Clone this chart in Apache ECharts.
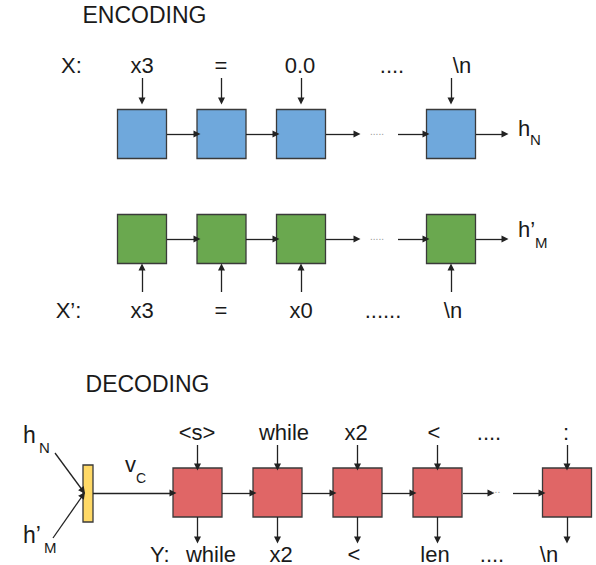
<!DOCTYPE html>
<html>
<head>
<meta charset="utf-8">
<script src="https://cdn.jsdelivr.net/npm/echarts@6/dist/echarts.min.js"></script>
<style>html,body{margin:0;padding:0;background:#fff}#c{width:596px;height:565px}</style>
</head>
<body>
<div id="c"></div>
<script>
// ---- data (tokens) ----
const encTokens = ['x3', '=', '0.0', '....', '\\n'];
const encPrimeTokens = ['x3', '=', 'x0', '......', '\\n'];
const decInTokens = ['<s>', 'while', 'x2', '<', '....', ':'];
const decOutTokens = ['while', 'x2', '<', 'len', '....', '\\n'];
const titles = ['ENCODING', 'DECODING'];
const rowLabels = ['X:', 'X\u2019:', 'Y:'];

// ---- layout (pixel space via hidden value axes) ----
const FONT = '"Liberation Sans", Arial, sans-serif';
const BOX = 49;
const blueX = [142, 221.5, 301, 451], blueY = 134;
const greenX = [142, 221.5, 301, 451], greenY = 239;
const redX = [197.5, 277.5, 357.5, 437.5, 567], redY = 492.5;
const encLabelX = [142, 221, 300, 392, 462];
const encPrimeLabelX = [142, 221, 301, 383, 453];
const decInX = [197, 284, 356, 434, 489, 566];
const decOutX = [211, 281, 354, 435, 492, 549];

const colors = { blue: '#6fa8dc', green: '#6aa84f', red: '#e06666', yellow: '#ffd966' };

// rectangles
const rects = [];
blueX.forEach(x => rects.push({ value: [x, blueY, BOX, BOX], c: colors.blue }));
greenX.forEach(x => rects.push({ value: [x, greenY, BOX, BOX], c: colors.green }));
redX.forEach(x => rects.push({ value: [x, redY, BOX, BOX], c: colors.red }));
rects.push({ value: [88, 493.5, 10, 57], c: colors.yellow });

// arrows
const arrows = [];
function arr(x1, y1, x2, y2) { arrows.push({ coords: [[x1, y1], [x2, y2]] }); }
[blueY, greenY].forEach(y => {
  arr(167, y, 197, y); arr(246, y, 276, y); arr(326, y, 357, y); arr(398, y, 426, y); arr(476, y, 505, y);
});
blueX.forEach(x => arr(x, 78, x, 101));
greenX.forEach(x => arr(x, 292, x, 267));
arr(93, 493, 173, 493);
arr(222, 493, 253, 493); arr(302, 493, 333, 493); arr(382, 493, 413, 493);
arr(463, 493, 491, 493); arr(513, 493, 542, 493);
redX.forEach(x => { arr(x, 445, x, 467); arr(x, 517, x, 540); });
arr(55, 453, 83, 491);
arr(53, 538, 83, 495);

// texts
const texts = [];
function t(x, y, s, size, align, color) { texts.push({ value: [x, y], s: s, size: size || 22, align: align || 'center', color: color || '#1a1a1a' }); }
t(144.5, 15, titles[0], 23); t(147.5, 384, titles[1], 23);
t(71.5, 65, rowLabels[0]); t(68.5, 310, rowLabels[1]); t(150, 554, rowLabels[2], 22, 'left');
encTokens.forEach((s, i) => t(encLabelX[i], 65, s));
encPrimeTokens.forEach((s, i) => t(encPrimeLabelX[i], 310, s));
decInTokens.forEach((s, i) => t(decInX[i], 432, s));
decOutTokens.forEach((s, i) => t(decOutX[i], 554, s));
t(377, blueY - 3, '.....', 10, 'center', '#999');
t(377, greenY - 3, '.....', 10, 'center', '#999');
t(496, redY - 3, '...', 10, 'center', '#999');
t(518, 128.5, 'h', 22, 'left'); t(530, 139.5, 'N', 15, 'left');
t(518, 229.5, 'h\u2019', 22, 'left'); t(535, 242, 'M', 15, 'left');
t(23, 435, 'h', 23, 'left'); t(39, 447.5, 'N', 15, 'left');
t(23, 535, 'h\u2019', 23, 'left'); t(44, 547.5, 'M', 15, 'left');
t(125, 464.5, 'v', 22, 'left'); t(136, 477.5, 'C', 14, 'left');

const chart = echarts.init(document.getElementById('c'), null, { renderer: 'svg' });
chart.setOption({
  animation: false,
  grid: { left: 0, right: 0, top: 0, bottom: 0 },
  xAxis: { type: 'value', min: 0, max: 596, show: false },
  yAxis: { type: 'value', min: 0, max: 565, inverse: true, show: false },
  series: [
    {
      type: 'custom', data: rects,
      renderItem: function (params, api) {
        const d = rects[params.dataIndex];
        const p = api.coord([api.value(0), api.value(1)]);
        const s = api.size([api.value(2), api.value(3)]);
        return { type: 'rect', shape: { x: p[0] - s[0] / 2, y: p[1] - s[1] / 2, width: s[0], height: s[1] },
          style: { fill: d.c, stroke: '#3a3a3a', lineWidth: 1.3 } };
      }
    },
    {
      type: 'lines', coordinateSystem: 'cartesian2d', data: arrows,
      symbol: ['none', 'triangle'], symbolSize: 7,
      lineStyle: { color: '#222', width: 1.3, opacity: 1 }
    },
    {
      type: 'custom', data: texts,
      renderItem: function (params, api) {
        const d = texts[params.dataIndex];
        const p = api.coord([api.value(0), api.value(1)]);
        return { type: 'text', x: p[0], y: p[1],
          style: { text: d.s, fontSize: d.size, fontFamily: FONT, fill: d.color, align: d.align, verticalAlign: 'middle' } };
      }
    }
  ]
});
</script>
</body>
</html>
